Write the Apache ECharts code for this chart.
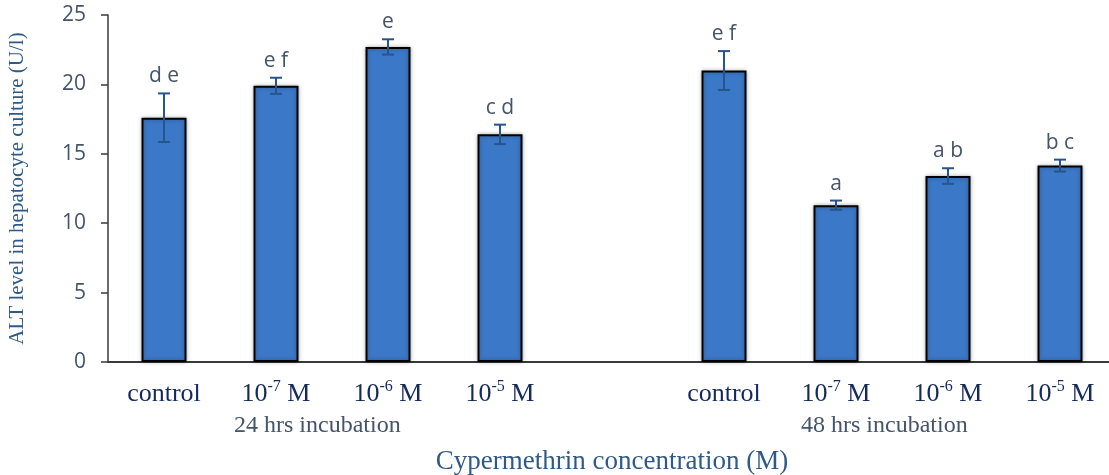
<!DOCTYPE html>
<html>
<head>
<meta charset="utf-8">
<script src="https://cdn.jsdelivr.net/npm/echarts@6/dist/echarts.min.js"></script>
<style>
html, body { margin: 0; padding: 0; background: #fff; }
#chart { width: 1109px; height: 475px; }
</style>
</head>
<body>
<div id="chart"></div>
<script>
// categories (empty slot in the middle separates the two incubation groups)
var categories = ['control', '10^-7 M', '10^-6 M', '10^-5 M', '', 'control', '10^-7 M', '10^-6 M', '10^-5 M'];
var means = [17.6, 19.9, 22.7, 16.4, null, 21.0, 11.3, 13.4, 14.15];
var errors = [1.75, 0.58, 0.55, 0.7, null, 1.4, 0.33, 0.56, 0.43];
var letters = ['d e', 'e f', 'e', 'c d', '', 'e f', 'a', 'a b', 'b c'];
var yTicks = [0, 5, 10, 15, 20, 25];
var groupLabels = ['24 hrs incubation', '48 hrs incubation'];

var chart = echarts.init(document.getElementById('chart'));

var errData = [];
for (var i = 0; i < means.length; i++) {
	if (means[i] == null) continue;
	errData.push([i, means[i] - errors[i], means[i] + errors[i], letters[i]]);
}

function renderErr(params, api) {
	var lo = api.coord([api.value(0), api.value(1)]);
	var hi = api.coord([api.value(0), api.value(2)]);
	var cap = 6;
	var st = { stroke: '#27548a', lineWidth: 2 };
	return {
		type: 'group',
		children: [
			{ type: 'line', shape: { x1: hi[0], y1: hi[1], x2: lo[0], y2: lo[1] }, style: st },
			{ type: 'line', shape: { x1: hi[0] - cap, y1: hi[1], x2: hi[0] + cap, y2: hi[1] }, style: st },
			{ type: 'line', shape: { x1: lo[0] - cap, y1: lo[1], x2: lo[0] + cap, y2: lo[1] }, style: st },
			{ type: 'text', x: hi[0], y: hi[1] - 17, style: {
				text: api.value(3), fill: '#44546a', font: '21px "Open Sans"',
				align: 'center', verticalAlign: 'middle' } }
		]
	};
}

function fmtCat(v) {
	if (v.indexOf('^') < 0) return '{a|' + v + '}';
	var parts = v.split('^');
	var rest = parts[1].split(' ');
	return '{a|' + parts[0] + '}{s|' + rest[0] + '}{a| ' + rest[1] + '}';
}

var option = {
	animation: false,
	grid: { left: 108, right: -7, top: 15, bottom: 113, outerBoundsMode: 'none', containLabel: false },
	xAxis: {
		type: 'category',
		data: categories,
		name: 'Cypermethrin concentration (M)',
		nameLocation: 'middle',
		nameGap: 86,
		nameTextStyle: { fontFamily: 'Liberation Serif', fontSize: 27, color: '#2f5a87' },
		axisLine: { lineStyle: { color: '#3a3a3a', width: 2 } },
		axisTick: { show: false },
		axisLabel: {
			interval: 0,
			margin: 17,
			formatter: fmtCat,
			rich: {
				a: { fontFamily: 'Liberation Serif', fontSize: 26, color: '#142a5c', lineHeight: 30 },
				s: { fontFamily: 'Liberation Serif', fontSize: 16, color: '#142a5c', verticalAlign: 'top', lineHeight: 30 }
			}
		}
	},
	yAxis: {
		type: 'value',
		min: yTicks[0],
		max: yTicks[yTicks.length - 1],
		interval: 5,
		name: 'ALT level in hepatocyte culture (U/l)',
		nameLocation: 'middle',
		nameGap: 80,
		nameTextStyle: { fontFamily: 'Liberation Serif', fontSize: 21, color: '#2f5a87' },
		axisLine: { show: true, lineStyle: { color: '#3a3a3a', width: 1.5 } },
		axisTick: { show: true, length: 7, lineStyle: { color: '#3a3a3a', width: 1.5 } },
		splitLine: { show: false },
		axisLabel: { margin: 22, fontFamily: 'Open Sans', fontSize: 21, color: '#44546a' }
	},
	graphic: [
		{ type: 'text', left: 326 - 92, top: 414, style: { text: groupLabels[0], font: '24px "Liberation Serif"', fill: '#44546a' } },
		{ type: 'text', left: 893 - 92, top: 414, style: { text: groupLabels[1], font: '24px "Liberation Serif"', fill: '#44546a' } }
	],
	series: [
		{
			type: 'bar',
			data: means,
			barWidth: 45,
			itemStyle: {
				color: '#3b78c7', borderColor: '#000', borderWidth: 2,
				shadowBlur: 4, shadowColor: 'rgba(0,0,0,0.3)'
			}
		},
		{
			type: 'custom',
			data: errData,
			renderItem: renderErr,
			z: 10
		}
	]
};
chart.setOption(option);
</script>
</body>
</html>
